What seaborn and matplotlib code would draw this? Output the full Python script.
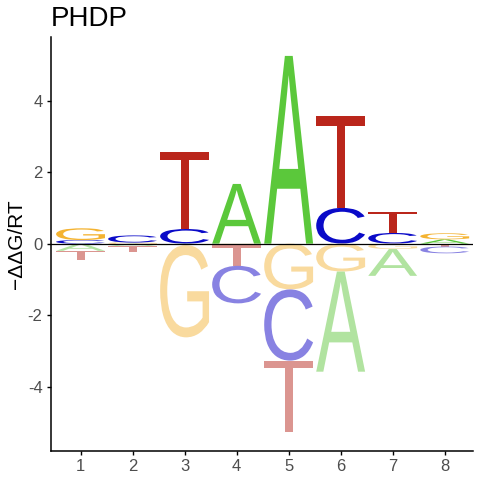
import numpy as np
import pandas as pd
import matplotlib
matplotlib.use("Agg")
import matplotlib.pyplot as plt
import seaborn as sns
from matplotlib.textpath import TextPath
from matplotlib.font_manager import FontProperties
from matplotlib.patches import PathPatch
from matplotlib.transforms import Affine2D

# energy values per position (-ddG/RT)
positions = [1, 2, 3, 4, 5, 6, 7, 8]
A_vals = [-0.20, -0.07, -0.04, 1.67, 5.25, -2.80, -0.75, 0.12]
C_vals = [0.10, 0.20, 0.41, -1.05, -1.99, 1.00, 0.30, -0.19]
G_vals = [0.33, 0.03, -2.58, -0.05, -1.28, -0.78, -0.15, 0.17]
T_vals = [-0.26, -0.15, 2.16, -0.57, -1.99, 2.57, 0.58, -0.08]

pos_colors = {'A': '#5BC83B', 'C': '#0A0AC8', 'G': '#F4B331', 'T': '#BA261B'}
neg_colors = {'A': '#B1E3A0', 'C': '#8882E2', 'G': '#F9DA9E', 'T': '#DB9590'}

df = pd.DataFrame({'pos': positions, 'A': A_vals, 'C': C_vals, 'G': G_vals, 'T': T_vals})
long_df = df.melt(id_vars='pos', var_name='letter', value_name='energy')

sns.set_style("ticks")
plt.rcParams['font.family'] = ['Liberation Sans', 'DejaVu Sans']
plt.rcParams['axes.unicode_minus'] = False

fp = FontProperties(family='Liberation Sans')
letter_width = 0.94


def draw_letter(ax, ch, x, y0, h, color):
    """Stretch a glyph into the box [x-w/2, x+w/2] x [y0, y0+h]"""
    tp = TextPath((0, 0), ch, size=1, prop=fp)
    bb = tp.get_extents()
    t = (Affine2D().translate(-bb.x0, -bb.y0)
         .scale(letter_width / bb.width, h / bb.height)
         .translate(x - letter_width / 2, y0))
    ax.add_patch(PathPatch(t.transform_path(tp), facecolor=color, edgecolor='none', lw=0))


fig = plt.figure(figsize=(4.8, 4.8), dpi=100)
ax = fig.add_axes([0.106, 0.061, 0.879, 0.862])

for p, grp in long_df.groupby('pos'):
    pos_part = grp[grp['energy'] > 0].sort_values('energy')
    neg_part = grp[grp['energy'] < 0].sort_values('energy', ascending=False)
    base = 0.0
    for _, r in pos_part.iterrows():
        draw_letter(ax, r['letter'], p, base, r['energy'], pos_colors[r['letter']])
        base += r['energy']
    base = 0.0
    for _, r in neg_part.iterrows():
        h = -r['energy']
        draw_letter(ax, r['letter'], p, base - h, h, neg_colors[r['letter']])
        base -= h

ax.axhline(0, color='black', lw=0.9)
ax.set_xlim(0.43, 8.54)
ax.set_ylim(-5.79, 5.78)
ax.set_xticks(positions)
ax.set_yticks([-4, -2, 0, 2, 4])
ax.tick_params(axis='both', labelsize=12, labelcolor='#4D4D4D', length=3, width=1,
               color='black', pad=3)
for s in ['left', 'bottom']:
    ax.spines[s].set_linewidth(1.1)
    ax.spines[s].set_color('black')
sns.despine(ax=ax)
ax.set_xlabel('')
ax.set_ylabel('\u2212\u0394\u0394G/RT', fontsize=15, color='black')
ax.yaxis.set_label_coords(-0.06, 0.5)
ax.set_title('PHDP', loc='left', fontsize=20, pad=8, color='black')

fig.savefig('out.png', dpi=100)
